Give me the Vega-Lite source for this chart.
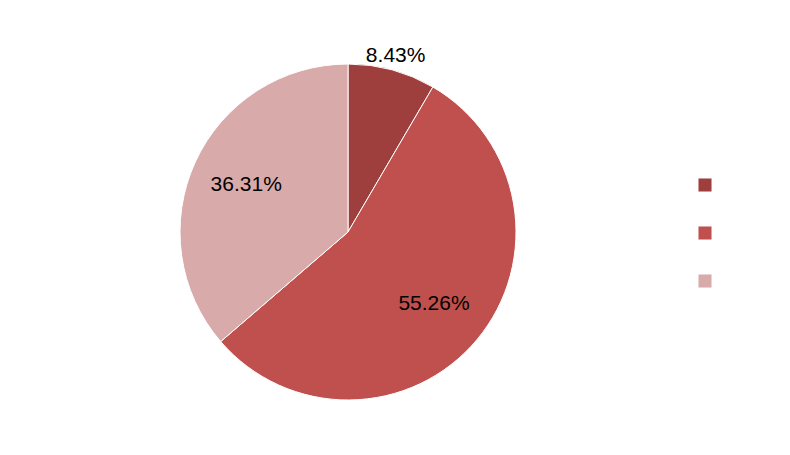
{
  "$schema": "https://vega.github.io/schema/vega-lite/v6.json",
  "width": 696,
  "height": 464,
  "padding": {"left": 0, "top": 0, "right": 94, "bottom": 0},
  "autosize": "none",
  "background": "white",
  "config": {"view": {"stroke": null}},
  "data": {"values": [
    {"category": "A", "value": 8.43, "order": 1},
    {"category": "B", "value": 55.26, "order": 2},
    {"category": "C", "value": 36.31, "order": 3}
  ]},
  "encoding": {
    "theta": {"field": "value", "type": "quantitative", "stack": true},
    "order": {"field": "order"}
  },
  "layer": [
    {
      "mark": {"type": "arc", "outerRadius": 168, "stroke": "white", "strokeWidth": 1},
      "encoding": {
        "color": {
          "field": "category",
          "type": "nominal",
          "scale": {"range": ["#9E3F3D", "#C0504D", "#D9AAAA"]},
          "legend": {
            "orient": "none", "legendX": 698, "legendY": 178, "title": null,
            "labelExpr": "' '", "symbolType": "square", "symbolSize": 170,
            "rowPadding": 34, "symbolStrokeWidth": 0
          }
        }
      }
    },
    {
      "mark": {
        "type": "text", "font": "Liberation Sans", "fontSize": 21, "color": "black",
        "radius": {"expr": "datum.value < 10 ? 182 : 112"},
        "text": {"expr": "format(datum.value, '.2f') + '%'"}
      }
    }
  ]
}
